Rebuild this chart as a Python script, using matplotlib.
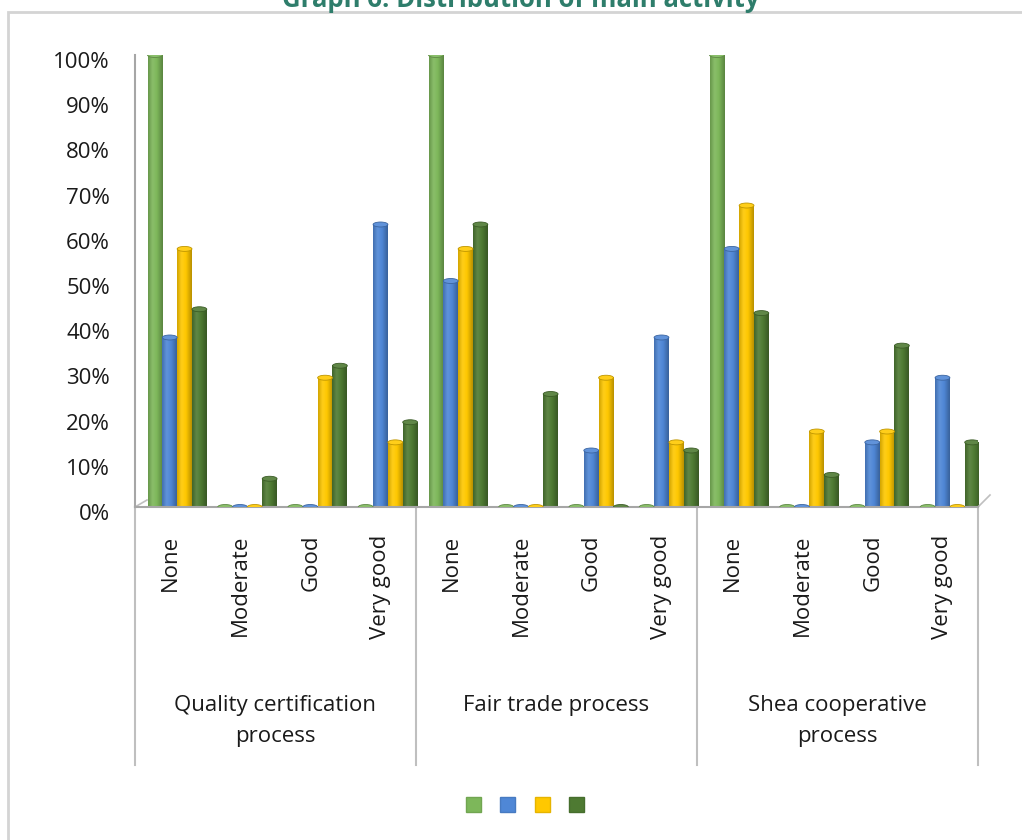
import matplotlib
matplotlib.use("Agg")
import matplotlib.pyplot as plt
import matplotlib.transforms as mtransforms
import numpy as np
from matplotlib.colors import LinearSegmentedColormap, to_rgb
from matplotlib.patches import Ellipse, Patch, Rectangle

plt.rcParams['font.family'] = ['Open Sans', 'DejaVu Sans']

# data (percent)
ratings = ["None", "Moderate", "Good", "Very good"]
processes = ["Quality certification\nprocess", "Fair trade process", "Shea cooperative\nprocess"]
series_light_green = [100, 0, 0, 0, 100, 0, 0, 0, 100, 0, 0, 0]
series_blue = [37.5, 0, 0, 62.5, 50, 0, 12.5, 37.5, 57.1, 0, 14.3, 28.6]
series_yellow = [57.1, 0, 28.6, 14.3, 57.1, 0, 28.6, 14.3, 66.7, 16.7, 16.7, 0]
series_dark_green = [43.75, 6.25, 31.25, 18.75, 62.5, 25, 0, 12.5, 42.9, 7.1, 35.7, 14.3]

all_series = [series_light_green, series_blue, series_yellow, series_dark_green]
colors = ['#7db75a', '#4f87d6', '#ffc800', '#4e7a32']
y_ticks = list(range(0, 101, 10))


def shade(c, f):
    r = np.array(to_rgb(c))
    if f < 1:
        return tuple(r * f)
    return tuple(r + (1 - r) * (f - 1))


fig = plt.figure(figsize=(10.22, 8.4), dpi=100)
ax = fig.add_axes([135 / 1022, 333 / 840, 843 / 1022, 452 / 840])

n_cat = len(ratings) * len(processes)
x = np.arange(n_cat)
bw = 0.211
shift = 0.1

for i, (vals, c) in enumerate(zip(all_series, colors)):
    cmap = LinearSegmentedColormap.from_list(
        'cyl%d' % i,
        [(0, shade(c, 0.82)), (0.3, shade(c, 1.1)), (0.6, shade(c, 1.0)), (1, shade(c, 0.72))])
    grad = np.linspace(0, 1, 64).reshape(1, -1)
    for xi, v in zip(x, vals):
        xc = xi + (i - 1.5) * bw + shift
        if v > 0:
            ax.imshow(grad, cmap=cmap, extent=(xc - bw / 2, xc + bw / 2, 0, v),
                      aspect='auto', interpolation='bicubic', zorder=2)
        ax.add_patch(Ellipse((xc, v), bw, 1.1, facecolor=shade(c, 1.1),
                             edgecolor=shade(c, 0.75), lw=0.6, zorder=3))

ax.set_xlim(-0.5, n_cat - 0.5)
ax.set_ylim(0, 100)
ax.set_yticks(y_ticks)
ax.set_yticklabels(['%d%%' % t for t in y_ticks])
ax.set_xticks(x)
ax.set_xticklabels(ratings * len(processes), rotation=90, va='top', ha='center')
ax.tick_params(axis='both', length=0, labelsize=16, labelcolor='#1a1a1a')
ax.tick_params(axis='y', pad=18)
ax.tick_params(axis='x', pad=20)

# y labels sit a little lower than the bars (3D floor)
down = mtransforms.ScaledTranslation(0, -5 / 100, fig.dpi_scale_trans)
for t in ax.yaxis.get_major_ticks():
    t.label1.set_transform(t.label1.get_transform() + down)

for s in ['top', 'right']:
    ax.spines[s].set_visible(False)
for s in ['left', 'bottom']:
    ax.spines[s].set_color('#a6a6a6')
    ax.spines[s].set_linewidth(1.5)

# little 3D floor edges
ax.plot([0, 12 / 843], [0, 7 / 452], color='#bfbfbf', lw=1.2, transform=ax.transAxes, clip_on=False)
ax.plot([1, 1 + 12 / 843], [0, 12 / 452], color='#bfbfbf', lw=1.2, transform=ax.transAxes, clip_on=False)

# group separators and group labels
per = len(ratings)
for b in np.arange(-0.5, n_cat, per):
    ax.plot([b, b], [0, -258 / 452], color='#bfbfbf', lw=1.5,
            transform=ax.get_xaxis_transform(), clip_on=False)
for g, name in enumerate(processes):
    ax.text(g * per + (per - 1) / 2, -188 / 452, name, transform=ax.get_xaxis_transform(),
            ha='center', va='top', fontsize=16, color='#1a1a1a', linespacing=1.6)

# legend without labels
handles = [Patch(facecolor=c, edgecolor=shade(c, 0.9)) for c in colors]
fig.legend(handles, ['', '', '', ''], loc='center', bbox_to_anchor=(525 / 1022, 1 - 807 / 840),
           ncol=4, frameon=False, fontsize=16, handlelength=0.68, handleheight=0.68,
           handletextpad=0, columnspacing=0.86)

# outer frame and the title, cut at the top edge as in the source
fig.add_artist(Rectangle((8 / 1022, -0.1), 1.2, 1.1 - 12 / 840, transform=fig.transFigure,
                         fill=False, edgecolor='#d4d4d4', lw=2))
fig.text(521 / 1022, 1 - 7 / 840, 'Graph 6: Distribution of main activity', ha='center',
         va='baseline', fontsize=18.5, fontweight='bold', color='#2e7d6b')

fig.savefig('out.png', dpi=100)
